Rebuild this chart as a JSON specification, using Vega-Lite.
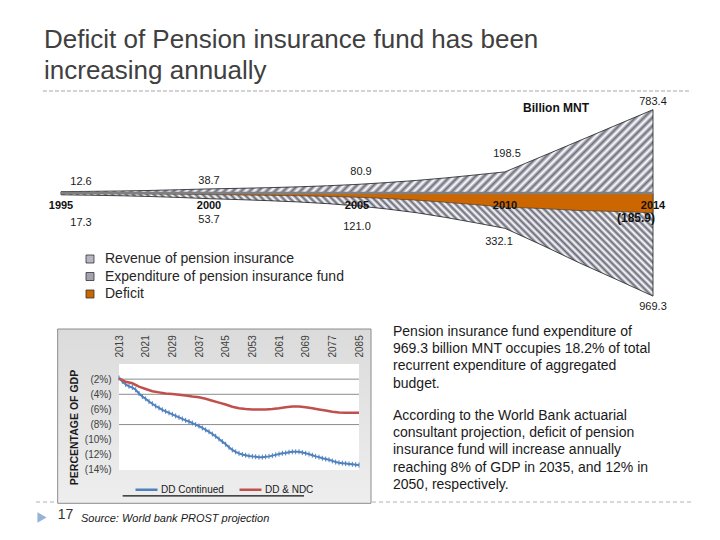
{
  "$schema": "https://vega.github.io/schema/vega-lite/v6.json",
  "background": "white",
  "padding": {"left": 35, "top": 26, "right": 30, "bottom": 5},
  "spacing": 7,
  "config": {
    "font": "Liberation Sans",
    "view": {"stroke": null},
    "axis": {"labelOverlap": false}
  },
  "datasets": {
    "fund": [
      {"year": 1995, "revenue": 12.6, "expenditure": 17.3, "balance": -4.7},
      {"year": 1996, "revenue": 15.5, "expenditure": 21, "balance": -5.5},
      {"year": 1997, "revenue": 19, "expenditure": 26, "balance": -7},
      {"year": 1998, "revenue": 24, "expenditure": 33, "balance": -9},
      {"year": 1999, "revenue": 31, "expenditure": 42, "balance": -11},
      {"year": 2000, "revenue": 38.7, "expenditure": 53.7, "balance": -15},
      {"year": 2001, "revenue": 44, "expenditure": 62, "balance": -18},
      {"year": 2002, "revenue": 50, "expenditure": 72, "balance": -22},
      {"year": 2003, "revenue": 58, "expenditure": 84, "balance": -26},
      {"year": 2004, "revenue": 68, "expenditure": 100, "balance": -32},
      {"year": 2005, "revenue": 80.9, "expenditure": 121, "balance": -40.1},
      {"year": 2006, "revenue": 98, "expenditure": 150, "balance": -52},
      {"year": 2007, "revenue": 118, "expenditure": 185, "balance": -67},
      {"year": 2008, "revenue": 142, "expenditure": 230, "balance": -88},
      {"year": 2009, "revenue": 170, "expenditure": 280, "balance": -110},
      {"year": 2010, "revenue": 198.5, "expenditure": 332.1, "balance": -133.6},
      {"year": 2011, "revenue": 344, "expenditure": 490, "balance": -146},
      {"year": 2012, "revenue": 490, "expenditure": 655, "balance": -165},
      {"year": 2013, "revenue": 637, "expenditure": 811, "balance": -174},
      {"year": 2014, "revenue": 783.4, "expenditure": 969.3, "balance": -185.9}
    ],
    "gdp": [
      {"year": 2013, "series": "DD Continued", "pct": -1.85},
      {"year": 2014, "series": "DD Continued", "pct": -2.3},
      {"year": 2015, "series": "DD Continued", "pct": -2.7},
      {"year": 2016, "series": "DD Continued", "pct": -2.95},
      {"year": 2017, "series": "DD Continued", "pct": -3.1},
      {"year": 2018, "series": "DD Continued", "pct": -3.4},
      {"year": 2019, "series": "DD Continued", "pct": -3.9},
      {"year": 2020, "series": "DD Continued", "pct": -4.3},
      {"year": 2021, "series": "DD Continued", "pct": -4.6},
      {"year": 2022, "series": "DD Continued", "pct": -4.95},
      {"year": 2023, "series": "DD Continued", "pct": -5.25},
      {"year": 2024, "series": "DD Continued", "pct": -5.55},
      {"year": 2025, "series": "DD Continued", "pct": -5.8},
      {"year": 2026, "series": "DD Continued", "pct": -6.05},
      {"year": 2027, "series": "DD Continued", "pct": -6.25},
      {"year": 2028, "series": "DD Continued", "pct": -6.45},
      {"year": 2029, "series": "DD Continued", "pct": -6.65},
      {"year": 2030, "series": "DD Continued", "pct": -6.85},
      {"year": 2031, "series": "DD Continued", "pct": -7.05},
      {"year": 2032, "series": "DD Continued", "pct": -7.25},
      {"year": 2033, "series": "DD Continued", "pct": -7.45},
      {"year": 2034, "series": "DD Continued", "pct": -7.6},
      {"year": 2035, "series": "DD Continued", "pct": -7.8},
      {"year": 2036, "series": "DD Continued", "pct": -8.0},
      {"year": 2037, "series": "DD Continued", "pct": -8.2},
      {"year": 2038, "series": "DD Continued", "pct": -8.45},
      {"year": 2039, "series": "DD Continued", "pct": -8.7},
      {"year": 2040, "series": "DD Continued", "pct": -8.95},
      {"year": 2041, "series": "DD Continued", "pct": -9.25},
      {"year": 2042, "series": "DD Continued", "pct": -9.55},
      {"year": 2043, "series": "DD Continued", "pct": -9.9},
      {"year": 2044, "series": "DD Continued", "pct": -10.25},
      {"year": 2045, "series": "DD Continued", "pct": -10.6},
      {"year": 2046, "series": "DD Continued", "pct": -11.0},
      {"year": 2047, "series": "DD Continued", "pct": -11.35},
      {"year": 2048, "series": "DD Continued", "pct": -11.6},
      {"year": 2049, "series": "DD Continued", "pct": -11.8},
      {"year": 2050, "series": "DD Continued", "pct": -11.95},
      {"year": 2051, "series": "DD Continued", "pct": -12.05},
      {"year": 2052, "series": "DD Continued", "pct": -12.15},
      {"year": 2053, "series": "DD Continued", "pct": -12.2},
      {"year": 2054, "series": "DD Continued", "pct": -12.25},
      {"year": 2055, "series": "DD Continued", "pct": -12.3},
      {"year": 2056, "series": "DD Continued", "pct": -12.3},
      {"year": 2057, "series": "DD Continued", "pct": -12.25},
      {"year": 2058, "series": "DD Continued", "pct": -12.2},
      {"year": 2059, "series": "DD Continued", "pct": -12.1},
      {"year": 2060, "series": "DD Continued", "pct": -12.0},
      {"year": 2061, "series": "DD Continued", "pct": -11.9},
      {"year": 2062, "series": "DD Continued", "pct": -11.8},
      {"year": 2063, "series": "DD Continued", "pct": -11.75},
      {"year": 2064, "series": "DD Continued", "pct": -11.65},
      {"year": 2065, "series": "DD Continued", "pct": -11.6},
      {"year": 2066, "series": "DD Continued", "pct": -11.6},
      {"year": 2067, "series": "DD Continued", "pct": -11.6},
      {"year": 2068, "series": "DD Continued", "pct": -11.7},
      {"year": 2069, "series": "DD Continued", "pct": -11.8},
      {"year": 2070, "series": "DD Continued", "pct": -11.9},
      {"year": 2071, "series": "DD Continued", "pct": -12.05},
      {"year": 2072, "series": "DD Continued", "pct": -12.2},
      {"year": 2073, "series": "DD Continued", "pct": -12.3},
      {"year": 2074, "series": "DD Continued", "pct": -12.45},
      {"year": 2075, "series": "DD Continued", "pct": -12.55},
      {"year": 2076, "series": "DD Continued", "pct": -12.65},
      {"year": 2077, "series": "DD Continued", "pct": -12.8},
      {"year": 2078, "series": "DD Continued", "pct": -12.95},
      {"year": 2079, "series": "DD Continued", "pct": -13.05},
      {"year": 2080, "series": "DD Continued", "pct": -13.1},
      {"year": 2081, "series": "DD Continued", "pct": -13.15},
      {"year": 2082, "series": "DD Continued", "pct": -13.2},
      {"year": 2083, "series": "DD Continued", "pct": -13.25},
      {"year": 2084, "series": "DD Continued", "pct": -13.3},
      {"year": 2085, "series": "DD Continued", "pct": -13.35},
      {"year": 2013, "series": "DD & NDC", "pct": -1.9},
      {"year": 2015, "series": "DD & NDC", "pct": -2.35},
      {"year": 2017, "series": "DD & NDC", "pct": -2.55},
      {"year": 2019, "series": "DD & NDC", "pct": -3.0},
      {"year": 2021, "series": "DD & NDC", "pct": -3.3},
      {"year": 2023, "series": "DD & NDC", "pct": -3.6},
      {"year": 2025, "series": "DD & NDC", "pct": -3.75},
      {"year": 2027, "series": "DD & NDC", "pct": -3.9},
      {"year": 2029, "series": "DD & NDC", "pct": -3.95},
      {"year": 2031, "series": "DD & NDC", "pct": -4.05},
      {"year": 2033, "series": "DD & NDC", "pct": -4.15},
      {"year": 2035, "series": "DD & NDC", "pct": -4.3},
      {"year": 2037, "series": "DD & NDC", "pct": -4.4},
      {"year": 2039, "series": "DD & NDC", "pct": -4.6},
      {"year": 2041, "series": "DD & NDC", "pct": -4.85},
      {"year": 2043, "series": "DD & NDC", "pct": -5.1},
      {"year": 2045, "series": "DD & NDC", "pct": -5.35},
      {"year": 2047, "series": "DD & NDC", "pct": -5.65},
      {"year": 2049, "series": "DD & NDC", "pct": -5.85},
      {"year": 2051, "series": "DD & NDC", "pct": -5.95},
      {"year": 2053, "series": "DD & NDC", "pct": -6.0},
      {"year": 2055, "series": "DD & NDC", "pct": -6.0},
      {"year": 2057, "series": "DD & NDC", "pct": -6.0},
      {"year": 2059, "series": "DD & NDC", "pct": -5.95},
      {"year": 2061, "series": "DD & NDC", "pct": -5.85},
      {"year": 2063, "series": "DD & NDC", "pct": -5.7},
      {"year": 2065, "series": "DD & NDC", "pct": -5.6},
      {"year": 2067, "series": "DD & NDC", "pct": -5.6},
      {"year": 2069, "series": "DD & NDC", "pct": -5.7},
      {"year": 2071, "series": "DD & NDC", "pct": -5.85},
      {"year": 2073, "series": "DD & NDC", "pct": -6.0},
      {"year": 2075, "series": "DD & NDC", "pct": -6.15},
      {"year": 2077, "series": "DD & NDC", "pct": -6.3},
      {"year": 2079, "series": "DD & NDC", "pct": -6.4},
      {"year": 2081, "series": "DD & NDC", "pct": -6.45},
      {"year": 2083, "series": "DD & NDC", "pct": -6.45},
      {"year": 2085, "series": "DD & NDC", "pct": -6.45}
    ]
  },
  "vconcat": [
    {
      "title": {
        "text": ["Deficit of Pension insurance fund has been", "increasing annually"],
        "anchor": "start",
        "frame": "group",
        "dx": 8,
        "offset": 7,
        "fontSize": 26,
        "fontWeight": "normal",
        "lineHeight": 31,
        "color": "#404040"
      },
      "width": 655,
      "height": 225,
      "data": {"name": "fund"},
      "layer": [
        {
          "layer": [
            {
              "mark": {
                "type": "area",
                "stroke": "#1a1a1a",
                "strokeWidth": 0.8,
                "fill": {
                  "gradient": "linear", "x1": 0, "y1": 1, "x2": 1.1396, "y2": 0.8015,
                  "stops": [
                    {"offset":0,"color":"#68687a"},{"offset":0.005,"color":"#fff"},{"offset":0.01,"color":"#68687a"},{"offset":0.015,"color":"#fff"},{"offset":0.02,"color":"#68687a"},{"offset":0.025,"color":"#fff"},{"offset":0.03,"color":"#68687a"},{"offset":0.035,"color":"#fff"},{"offset":0.04,"color":"#68687a"},{"offset":0.045,"color":"#fff"},{"offset":0.05,"color":"#68687a"},{"offset":0.055,"color":"#fff"},{"offset":0.06,"color":"#68687a"},{"offset":0.065,"color":"#fff"},{"offset":0.07,"color":"#68687a"},{"offset":0.075,"color":"#fff"},{"offset":0.08,"color":"#68687a"},{"offset":0.085,"color":"#fff"},{"offset":0.09,"color":"#68687a"},{"offset":0.095,"color":"#fff"},
                    {"offset":0.1,"color":"#68687a"},{"offset":0.105,"color":"#fff"},{"offset":0.11,"color":"#68687a"},{"offset":0.115,"color":"#fff"},{"offset":0.12,"color":"#68687a"},{"offset":0.125,"color":"#fff"},{"offset":0.13,"color":"#68687a"},{"offset":0.135,"color":"#fff"},{"offset":0.14,"color":"#68687a"},{"offset":0.145,"color":"#fff"},{"offset":0.15,"color":"#68687a"},{"offset":0.155,"color":"#fff"},{"offset":0.16,"color":"#68687a"},{"offset":0.165,"color":"#fff"},{"offset":0.17,"color":"#68687a"},{"offset":0.175,"color":"#fff"},{"offset":0.18,"color":"#68687a"},{"offset":0.185,"color":"#fff"},{"offset":0.19,"color":"#68687a"},{"offset":0.195,"color":"#fff"},
                    {"offset":0.2,"color":"#68687a"},{"offset":0.205,"color":"#fff"},{"offset":0.21,"color":"#68687a"},{"offset":0.215,"color":"#fff"},{"offset":0.22,"color":"#68687a"},{"offset":0.225,"color":"#fff"},{"offset":0.23,"color":"#68687a"},{"offset":0.235,"color":"#fff"},{"offset":0.24,"color":"#68687a"},{"offset":0.245,"color":"#fff"},{"offset":0.25,"color":"#68687a"},{"offset":0.255,"color":"#fff"},{"offset":0.26,"color":"#68687a"},{"offset":0.265,"color":"#fff"},{"offset":0.27,"color":"#68687a"},{"offset":0.275,"color":"#fff"},{"offset":0.28,"color":"#68687a"},{"offset":0.285,"color":"#fff"},{"offset":0.29,"color":"#68687a"},{"offset":0.295,"color":"#fff"},
                    {"offset":0.3,"color":"#68687a"},{"offset":0.305,"color":"#fff"},{"offset":0.31,"color":"#68687a"},{"offset":0.315,"color":"#fff"},{"offset":0.32,"color":"#68687a"},{"offset":0.325,"color":"#fff"},{"offset":0.33,"color":"#68687a"},{"offset":0.335,"color":"#fff"},{"offset":0.34,"color":"#68687a"},{"offset":0.345,"color":"#fff"},{"offset":0.35,"color":"#68687a"},{"offset":0.355,"color":"#fff"},{"offset":0.36,"color":"#68687a"},{"offset":0.365,"color":"#fff"},{"offset":0.37,"color":"#68687a"},{"offset":0.375,"color":"#fff"},{"offset":0.38,"color":"#68687a"},{"offset":0.385,"color":"#fff"},{"offset":0.39,"color":"#68687a"},{"offset":0.395,"color":"#fff"},
                    {"offset":0.4,"color":"#68687a"},{"offset":0.405,"color":"#fff"},{"offset":0.41,"color":"#68687a"},{"offset":0.415,"color":"#fff"},{"offset":0.42,"color":"#68687a"},{"offset":0.425,"color":"#fff"},{"offset":0.43,"color":"#68687a"},{"offset":0.435,"color":"#fff"},{"offset":0.44,"color":"#68687a"},{"offset":0.445,"color":"#fff"},{"offset":0.45,"color":"#68687a"},{"offset":0.455,"color":"#fff"},{"offset":0.46,"color":"#68687a"},{"offset":0.465,"color":"#fff"},{"offset":0.47,"color":"#68687a"},{"offset":0.475,"color":"#fff"},{"offset":0.48,"color":"#68687a"},{"offset":0.485,"color":"#fff"},{"offset":0.49,"color":"#68687a"},{"offset":0.495,"color":"#fff"},
                    {"offset":0.5,"color":"#68687a"},{"offset":0.505,"color":"#fff"},{"offset":0.51,"color":"#68687a"},{"offset":0.515,"color":"#fff"},{"offset":0.52,"color":"#68687a"},{"offset":0.525,"color":"#fff"},{"offset":0.53,"color":"#68687a"},{"offset":0.535,"color":"#fff"},{"offset":0.54,"color":"#68687a"},{"offset":0.545,"color":"#fff"},{"offset":0.55,"color":"#68687a"},{"offset":0.555,"color":"#fff"},{"offset":0.56,"color":"#68687a"},{"offset":0.565,"color":"#fff"},{"offset":0.57,"color":"#68687a"},{"offset":0.575,"color":"#fff"},{"offset":0.58,"color":"#68687a"},{"offset":0.585,"color":"#fff"},{"offset":0.59,"color":"#68687a"},{"offset":0.595,"color":"#fff"},
                    {"offset":0.6,"color":"#68687a"},{"offset":0.605,"color":"#fff"},{"offset":0.61,"color":"#68687a"},{"offset":0.615,"color":"#fff"},{"offset":0.62,"color":"#68687a"},{"offset":0.625,"color":"#fff"},{"offset":0.63,"color":"#68687a"},{"offset":0.635,"color":"#fff"},{"offset":0.64,"color":"#68687a"},{"offset":0.645,"color":"#fff"},{"offset":0.65,"color":"#68687a"},{"offset":0.655,"color":"#fff"},{"offset":0.66,"color":"#68687a"},{"offset":0.665,"color":"#fff"},{"offset":0.67,"color":"#68687a"},{"offset":0.675,"color":"#fff"},{"offset":0.68,"color":"#68687a"},{"offset":0.685,"color":"#fff"},{"offset":0.69,"color":"#68687a"},{"offset":0.695,"color":"#fff"},
                    {"offset":0.7,"color":"#68687a"},{"offset":0.705,"color":"#fff"},{"offset":0.71,"color":"#68687a"},{"offset":0.715,"color":"#fff"},{"offset":0.72,"color":"#68687a"},{"offset":0.725,"color":"#fff"},{"offset":0.73,"color":"#68687a"},{"offset":0.735,"color":"#fff"},{"offset":0.74,"color":"#68687a"},{"offset":0.745,"color":"#fff"},{"offset":0.75,"color":"#68687a"},{"offset":0.755,"color":"#fff"},{"offset":0.76,"color":"#68687a"},{"offset":0.765,"color":"#fff"},{"offset":0.77,"color":"#68687a"},{"offset":0.775,"color":"#fff"},{"offset":0.78,"color":"#68687a"},{"offset":0.785,"color":"#fff"},{"offset":0.79,"color":"#68687a"},{"offset":0.795,"color":"#fff"},
                    {"offset":0.8,"color":"#68687a"},{"offset":0.805,"color":"#fff"},{"offset":0.81,"color":"#68687a"},{"offset":0.815,"color":"#fff"},{"offset":0.82,"color":"#68687a"},{"offset":0.825,"color":"#fff"},{"offset":0.83,"color":"#68687a"},{"offset":0.835,"color":"#fff"},{"offset":0.84,"color":"#68687a"},{"offset":0.845,"color":"#fff"},{"offset":0.85,"color":"#68687a"},{"offset":0.855,"color":"#fff"},{"offset":0.86,"color":"#68687a"},{"offset":0.865,"color":"#fff"},{"offset":0.87,"color":"#68687a"},{"offset":0.875,"color":"#fff"},{"offset":0.88,"color":"#68687a"},{"offset":0.885,"color":"#fff"},{"offset":0.89,"color":"#68687a"},{"offset":0.895,"color":"#fff"},
                    {"offset":0.9,"color":"#68687a"},{"offset":0.905,"color":"#fff"},{"offset":0.91,"color":"#68687a"},{"offset":0.915,"color":"#fff"},{"offset":0.92,"color":"#68687a"},{"offset":0.925,"color":"#fff"},{"offset":0.93,"color":"#68687a"},{"offset":0.935,"color":"#fff"},{"offset":0.94,"color":"#68687a"},{"offset":0.945,"color":"#fff"},{"offset":0.95,"color":"#68687a"},{"offset":0.955,"color":"#fff"},{"offset":0.96,"color":"#68687a"},{"offset":0.965,"color":"#fff"},{"offset":0.97,"color":"#68687a"},{"offset":0.975,"color":"#fff"},{"offset":0.98,"color":"#68687a"},{"offset":0.985,"color":"#fff"},{"offset":0.99,"color":"#68687a"},{"offset":0.995,"color":"#fff"},
                    {"offset":1,"color":"#68687a"}
                  ]
                }
              },
              "encoding": {
                "x": {"field": "year", "type": "quantitative", "scale": {"domain": [1995, 2010, 2014], "range": [25, 469, 617], "nice": false, "zero": false}, "axis": null},
                "y": {"field": "expenditure", "type": "quantitative", "scale": {"domain": [-958.8, 1156.2], "reverse": true, "nice": false, "zero": false}, "axis": null},
                "y2": {"datum": 0}
              }
            },
            {
              "transform": [{"filter": "datum.year == 1995"}],
              "mark": {"type": "text", "dx": 20, "dy": 28, "fontSize": 11, "color": "#1a1a1a"},
              "encoding": {
                "x": {"field": "year", "type": "quantitative"},
                "y": {"field": "expenditure", "type": "quantitative"},
                "text": {"field": "expenditure", "type": "quantitative", "format": ".1f"}
              }
            },
            {
              "transform": [{"filter": "datum.year == 2000 || datum.year == 2005"}],
              "mark": {"type": "text", "dy": 21, "fontSize": 11, "color": "#1a1a1a"},
              "encoding": {
                "x": {"field": "year", "type": "quantitative"},
                "y": {"field": "expenditure", "type": "quantitative"},
                "text": {"field": "expenditure", "type": "quantitative", "format": ".1f"}
              }
            },
            {
              "transform": [{"filter": "datum.year == 2010"}],
              "mark": {"type": "text", "dx": -6, "dy": 14, "fontSize": 11, "color": "#1a1a1a"},
              "encoding": {
                "x": {"field": "year", "type": "quantitative"},
                "y": {"field": "expenditure", "type": "quantitative"},
                "text": {"field": "expenditure", "type": "quantitative", "format": ".1f"}
              }
            },
            {
              "transform": [{"filter": "datum.year == 2014"}],
              "mark": {"type": "text", "dy": 11, "fontSize": 11, "color": "#1a1a1a"},
              "encoding": {
                "x": {"field": "year", "type": "quantitative"},
                "y": {"field": "expenditure", "type": "quantitative"},
                "text": {"field": "expenditure", "type": "quantitative", "format": ".1f"}
              }
            }
          ]
        },
        {
          "layer": [
            {
              "mark": {
                "type": "area",
                "stroke": "#1a1a1a",
                "strokeWidth": 0.8,
                "fill": {
                  "gradient": "linear", "x1": 0, "y1": 0, "x2": 1.1186, "y2": 0.1574,
                  "stops": [
                    {"offset":0,"color":"#6e6e80"},{"offset":0.00625,"color":"#fff"},{"offset":0.0125,"color":"#6e6e80"},{"offset":0.01875,"color":"#fff"},{"offset":0.025,"color":"#6e6e80"},{"offset":0.03125,"color":"#fff"},{"offset":0.0375,"color":"#6e6e80"},{"offset":0.04375,"color":"#fff"},{"offset":0.05,"color":"#6e6e80"},{"offset":0.05625,"color":"#fff"},{"offset":0.0625,"color":"#6e6e80"},{"offset":0.06875,"color":"#fff"},{"offset":0.075,"color":"#6e6e80"},{"offset":0.08125,"color":"#fff"},{"offset":0.0875,"color":"#6e6e80"},{"offset":0.09375,"color":"#fff"},
                    {"offset":0.1,"color":"#6e6e80"},{"offset":0.10625,"color":"#fff"},{"offset":0.1125,"color":"#6e6e80"},{"offset":0.11875,"color":"#fff"},{"offset":0.125,"color":"#6e6e80"},{"offset":0.13125,"color":"#fff"},{"offset":0.1375,"color":"#6e6e80"},{"offset":0.14375,"color":"#fff"},{"offset":0.15,"color":"#6e6e80"},{"offset":0.15625,"color":"#fff"},{"offset":0.1625,"color":"#6e6e80"},{"offset":0.16875,"color":"#fff"},{"offset":0.175,"color":"#6e6e80"},{"offset":0.18125,"color":"#fff"},{"offset":0.1875,"color":"#6e6e80"},{"offset":0.19375,"color":"#fff"},
                    {"offset":0.2,"color":"#6e6e80"},{"offset":0.20625,"color":"#fff"},{"offset":0.2125,"color":"#6e6e80"},{"offset":0.21875,"color":"#fff"},{"offset":0.225,"color":"#6e6e80"},{"offset":0.23125,"color":"#fff"},{"offset":0.2375,"color":"#6e6e80"},{"offset":0.24375,"color":"#fff"},{"offset":0.25,"color":"#6e6e80"},{"offset":0.25625,"color":"#fff"},{"offset":0.2625,"color":"#6e6e80"},{"offset":0.26875,"color":"#fff"},{"offset":0.275,"color":"#6e6e80"},{"offset":0.28125,"color":"#fff"},{"offset":0.2875,"color":"#6e6e80"},{"offset":0.29375,"color":"#fff"},
                    {"offset":0.3,"color":"#6e6e80"},{"offset":0.30625,"color":"#fff"},{"offset":0.3125,"color":"#6e6e80"},{"offset":0.31875,"color":"#fff"},{"offset":0.325,"color":"#6e6e80"},{"offset":0.33125,"color":"#fff"},{"offset":0.3375,"color":"#6e6e80"},{"offset":0.34375,"color":"#fff"},{"offset":0.35,"color":"#6e6e80"},{"offset":0.35625,"color":"#fff"},{"offset":0.3625,"color":"#6e6e80"},{"offset":0.36875,"color":"#fff"},{"offset":0.375,"color":"#6e6e80"},{"offset":0.38125,"color":"#fff"},{"offset":0.3875,"color":"#6e6e80"},{"offset":0.39375,"color":"#fff"},
                    {"offset":0.4,"color":"#6e6e80"},{"offset":0.40625,"color":"#fff"},{"offset":0.4125,"color":"#6e6e80"},{"offset":0.41875,"color":"#fff"},{"offset":0.425,"color":"#6e6e80"},{"offset":0.43125,"color":"#fff"},{"offset":0.4375,"color":"#6e6e80"},{"offset":0.44375,"color":"#fff"},{"offset":0.45,"color":"#6e6e80"},{"offset":0.45625,"color":"#fff"},{"offset":0.4625,"color":"#6e6e80"},{"offset":0.46875,"color":"#fff"},{"offset":0.475,"color":"#6e6e80"},{"offset":0.48125,"color":"#fff"},{"offset":0.4875,"color":"#6e6e80"},{"offset":0.49375,"color":"#fff"},
                    {"offset":0.5,"color":"#6e6e80"},{"offset":0.50625,"color":"#fff"},{"offset":0.5125,"color":"#6e6e80"},{"offset":0.51875,"color":"#fff"},{"offset":0.525,"color":"#6e6e80"},{"offset":0.53125,"color":"#fff"},{"offset":0.5375,"color":"#6e6e80"},{"offset":0.54375,"color":"#fff"},{"offset":0.55,"color":"#6e6e80"},{"offset":0.55625,"color":"#fff"},{"offset":0.5625,"color":"#6e6e80"},{"offset":0.56875,"color":"#fff"},{"offset":0.575,"color":"#6e6e80"},{"offset":0.58125,"color":"#fff"},{"offset":0.5875,"color":"#6e6e80"},{"offset":0.59375,"color":"#fff"},
                    {"offset":0.6,"color":"#6e6e80"},{"offset":0.60625,"color":"#fff"},{"offset":0.6125,"color":"#6e6e80"},{"offset":0.61875,"color":"#fff"},{"offset":0.625,"color":"#6e6e80"},{"offset":0.63125,"color":"#fff"},{"offset":0.6375,"color":"#6e6e80"},{"offset":0.64375,"color":"#fff"},{"offset":0.65,"color":"#6e6e80"},{"offset":0.65625,"color":"#fff"},{"offset":0.6625,"color":"#6e6e80"},{"offset":0.66875,"color":"#fff"},{"offset":0.675,"color":"#6e6e80"},{"offset":0.68125,"color":"#fff"},{"offset":0.6875,"color":"#6e6e80"},{"offset":0.69375,"color":"#fff"},
                    {"offset":0.7,"color":"#6e6e80"},{"offset":0.70625,"color":"#fff"},{"offset":0.7125,"color":"#6e6e80"},{"offset":0.71875,"color":"#fff"},{"offset":0.725,"color":"#6e6e80"},{"offset":0.73125,"color":"#fff"},{"offset":0.7375,"color":"#6e6e80"},{"offset":0.74375,"color":"#fff"},{"offset":0.75,"color":"#6e6e80"},{"offset":0.75625,"color":"#fff"},{"offset":0.7625,"color":"#6e6e80"},{"offset":0.76875,"color":"#fff"},{"offset":0.775,"color":"#6e6e80"},{"offset":0.78125,"color":"#fff"},{"offset":0.7875,"color":"#6e6e80"},{"offset":0.79375,"color":"#fff"},
                    {"offset":0.8,"color":"#6e6e80"},{"offset":0.80625,"color":"#fff"},{"offset":0.8125,"color":"#6e6e80"},{"offset":0.81875,"color":"#fff"},{"offset":0.825,"color":"#6e6e80"},{"offset":0.83125,"color":"#fff"},{"offset":0.8375,"color":"#6e6e80"},{"offset":0.84375,"color":"#fff"},{"offset":0.85,"color":"#6e6e80"},{"offset":0.85625,"color":"#fff"},{"offset":0.8625,"color":"#6e6e80"},{"offset":0.86875,"color":"#fff"},{"offset":0.875,"color":"#6e6e80"},{"offset":0.88125,"color":"#fff"},{"offset":0.8875,"color":"#6e6e80"},{"offset":0.89375,"color":"#fff"},
                    {"offset":0.9,"color":"#6e6e80"},{"offset":0.90625,"color":"#fff"},{"offset":0.9125,"color":"#6e6e80"},{"offset":0.91875,"color":"#fff"},{"offset":0.925,"color":"#6e6e80"},{"offset":0.93125,"color":"#fff"},{"offset":0.9375,"color":"#6e6e80"},{"offset":0.94375,"color":"#fff"},{"offset":0.95,"color":"#6e6e80"},{"offset":0.95625,"color":"#fff"},{"offset":0.9625,"color":"#6e6e80"},{"offset":0.96875,"color":"#fff"},{"offset":0.975,"color":"#6e6e80"},{"offset":0.98125,"color":"#fff"},{"offset":0.9875,"color":"#6e6e80"},{"offset":0.99375,"color":"#fff"},
                    {"offset":1,"color":"#6e6e80"}
                  ]
                }
              },
              "encoding": {
                "x": {"field": "year", "type": "quantitative"},
                "y": {"field": "revenue", "type": "quantitative", "scale": {"domain": [-1156.2, 958.8], "nice": false, "zero": false}, "axis": null},
                "y2": {"datum": 0}
              }
            },
            {
              "mark": {"type": "area", "fill": "#cc6600", "stroke": "#333333", "strokeWidth": 0.6},
              "encoding": {
                "x": {"field": "year", "type": "quantitative"},
                "y": {"field": "balance", "type": "quantitative"},
                "y2": {"datum": 0}
              }
            },
            {
              "data": {"values": [{}]},
              "mark": {"type": "rule", "stroke": "#808080", "strokeWidth": 2.5},
              "encoding": {"x": {"datum": 1995}, "x2": {"datum": 2014}, "y": {"datum": 0}}
            },
            {
              "data": {"values": [{}]},
              "mark": {"type": "rule", "stroke": "#a6a6a6", "strokeWidth": 1, "strokeDash": [4, 2]},
              "encoding": {"x": {"datum": 1994.39}, "x2": {"datum": 2015.03}, "y": {"datum": 958.8}}
            },
            {
              "transform": [{"filter": "datum.year == 1995"}],
              "mark": {"type": "text", "dx": 20, "dy": -10, "fontSize": 11, "color": "#1a1a1a"},
              "encoding": {
                "x": {"field": "year", "type": "quantitative"},
                "y": {"field": "revenue", "type": "quantitative"},
                "text": {"field": "revenue", "type": "quantitative", "format": ".1f"}
              }
            },
            {
              "transform": [{"filter": "datum.year == 2000 || datum.year == 2014"}],
              "mark": {"type": "text", "dy": -8, "fontSize": 11, "color": "#1a1a1a"},
              "encoding": {
                "x": {"field": "year", "type": "quantitative"},
                "y": {"field": "revenue", "type": "quantitative"},
                "text": {"field": "revenue", "type": "quantitative", "format": ".1f"}
              }
            },
            {
              "transform": [{"filter": "datum.year == 2005"}],
              "mark": {"type": "text", "dx": 4, "dy": -12, "fontSize": 11, "color": "#1a1a1a"},
              "encoding": {
                "x": {"field": "year", "type": "quantitative"},
                "y": {"field": "revenue", "type": "quantitative"},
                "text": {"field": "revenue", "type": "quantitative", "format": ".1f"}
              }
            },
            {
              "transform": [{"filter": "datum.year == 2010"}],
              "mark": {"type": "text", "dx": 2, "dy": -18, "fontSize": 11, "color": "#1a1a1a"},
              "encoding": {
                "x": {"field": "year", "type": "quantitative"},
                "y": {"field": "revenue", "type": "quantitative"},
                "text": {"field": "revenue", "type": "quantitative", "format": ".1f"}
              }
            },
            {
              "transform": [{"filter": {"field": "year", "oneOf": [1995, 2000, 2005, 2010, 2014]}}],
              "mark": {"type": "text", "dy": 13, "fontSize": 11, "fontWeight": "bold", "color": "#111111"},
              "encoding": {
                "x": {"field": "year", "type": "quantitative"},
                "y": {"datum": 0},
                "text": {"field": "year", "type": "quantitative", "format": "d"}
              }
            },
            {
              "transform": [{"filter": "datum.year == 2014"}],
              "mark": {"type": "text", "align": "right", "dx": 2, "dy": 5, "fontSize": 12, "fontWeight": "bold", "color": "#111111"},
              "encoding": {
                "x": {"field": "year", "type": "quantitative"},
                "y": {"field": "balance", "type": "quantitative"},
                "text": {"field": "balance", "type": "quantitative", "format": "(.1f"}
              }
            },
            {
              "data": {"values": [{}]},
              "mark": {"type": "text", "text": "Billion MNT", "fontSize": 12, "fontWeight": "bold", "color": "#111111"},
              "encoding": {"x": {"datum": 2011.38}, "y": {"datum": 802}}
            },
            {
              "data": {"values": [
                {"item": "Revenue of pension insurance"},
                {"item": "Expenditure of pension insurance fund"},
                {"item": "Deficit"}
              ]},
              "mark": {"type": "square", "opacity": 0},
              "encoding": {
                "fill": {
                  "field": "item",
                  "type": "nominal",
                  "scale": {
                    "domain": ["Revenue of pension insurance", "Expenditure of pension insurance fund", "Deficit"],
                    "range": ["#b6b6c2", "#a2a2b0", "#cc6600"]
                  },
                  "legend": {
                    "orient": "none",
                    "legendX": 47,
                    "legendY": 161,
                    "title": null,
                    "padding": 0,
                    "labelFontSize": 14,
                    "labelColor": "#262626",
                    "labelLimit": 400,
                    "labelOffset": 8,
                    "rowPadding": 3.5,
                    "symbolType": "square",
                    "symbolSize": 64,
                    "symbolOpacity": 1,
                    "symbolStrokeColor": "#333333",
                    "symbolStrokeWidth": 0.8
                  }
                }
              }
            }
          ]
        }
      ],
      "resolve": {"scale": {"y": "independent"}}
    },
    {
      "width": 655,
      "height": 208,
      "layer": [
        {
          "data": {"values": [{}]},
          "mark": {"type": "rule", "stroke": "#b3b3b3", "strokeWidth": 1, "strokeDash": [4, 3]},
          "encoding": {"y": {"datum": -18.23}}
        },
        {
          "data": {"values": [{}]},
          "mark": {
            "type": "rect",
            "stroke": "#8c8c8c",
            "strokeWidth": 1,
            "fill": {
              "gradient": "linear", "x1": 0, "y1": 0, "x2": 0, "y2": 1,
              "stops": [{"offset": 0, "color": "#dbdbdb"}, {"offset": 1, "color": "#eeeeee"}]
            }
          },
          "encoding": {"x": {"datum": 1994.6}, "x2": {"datum": 2088.6}, "y": {"datum": 4.62}, "y2": {"datum": -18.4}}
        },
        {
          "data": {"values": [{}]},
          "mark": {"type": "rect", "fill": "#ffffff"},
          "encoding": {"x": {"datum": 2013}, "x2": {"datum": 2085}, "y": {"datum": 0}, "y2": {"datum": -14}}
        },
        {
          "data": {"values": [{"grid": -2}, {"grid": -4}, {"grid": -8}]},
          "mark": {"type": "rule", "stroke": "#8c8c8c", "strokeWidth": 1},
          "encoding": {"x": {"datum": 2013}, "x2": {"datum": 2085}, "y": {"field": "grid", "type": "quantitative"}}
        },
        {
          "data": {"name": "gdp"},
          "transform": [{"filter": "datum.series == 'DD Continued'"}],
          "mark": {
            "type": "line",
            "strokeWidth": 2,
            "point": {"shape": "M0,-1L0,1", "filled": false, "size": 25, "strokeWidth": 1}
          },
          "encoding": {
            "x": {
              "field": "year",
              "type": "quantitative",
              "scale": {"domain": [1988.1, 2184.6], "nice": false, "zero": false},
              "axis": {
                "orient": "top",
                "offset": -41,
                "values": [2013, 2021, 2029, 2037, 2045, 2053, 2061, 2069, 2077, 2085],
                "tickCount": 50,
                "format": "d",
                "labelAngle": -90,
                "labelPadding": 7,
                "labelFontSize": 10,
                "labelColor": "#404040",
                "labelOverlap": false,
                "labelFlush": false,
                "domain": false,
                "ticks": false,
                "grid": false,
                "title": null,
                "zindex": 1
              }
            },
            "y": {
              "field": "pct",
              "type": "quantitative",
              "scale": {"domain": [-22.057, 5.415], "nice": false, "zero": false},
              "axis": {
                "orient": "left",
                "offset": -83,
                "values": [-2, -4, -6, -8, -10, -12, -14],
                "tickCount": 50,
                "labelExpr": "'(' + abs(datum.value) + '%)'",
                "labelOverlap": false,
                "labelFlush": false,
                "labelPadding": 8,
                "labelFontSize": 10,
                "labelColor": "#404040",
                "domain": false,
                "ticks": false,
                "grid": false,
                "title": "PERCENTAGE OF GDP",
                "titleFontSize": 10.5,
                "titleFontWeight": "bold",
                "titleColor": "#1a1a1a",
                "titlePadding": 5,
                "zindex": 1
              }
            },
            "stroke": {
              "field": "series",
              "type": "nominal",
              "scale": {"domain": ["DD Continued", "DD & NDC"], "range": ["#4f81bd", "#c0504d"]},
              "legend": {
                "orient": "none",
                "legendX": 98,
                "legendY": 386,
                "direction": "horizontal",
                "title": null,
                "padding": 0,
                "symbolType": "stroke",
                "symbolSize": 484,
                "symbolStrokeWidth": 2.5,
                "labelFontSize": 10,
                "labelColor": "#1a1a1a",
                "labelOffset": 2,
                "columnPadding": 10
              }
            }
          }
        },
        {
          "data": {"name": "gdp"},
          "transform": [{"filter": "datum.series == 'DD & NDC'"}],
          "mark": {"type": "line", "strokeWidth": 2.5},
          "encoding": {
            "x": {"field": "year", "type": "quantitative"},
            "y": {"field": "pct", "type": "quantitative"},
            "stroke": {"field": "series", "type": "nominal"}
          }
        },
        {
          "data": {"values": [{}]},
          "mark": {"type": "rule", "stroke": "#111111", "strokeWidth": 1.2},
          "encoding": {"x": {"datum": 2014.1}, "x2": {"datum": 2068.5}, "y": {"datum": -17.43}}
        },
        {
          "data": {"values": [{}]},
          "mark": {
            "type": "text",
            "align": "left",
            "baseline": "top",
            "fontSize": 14,
            "lineHeight": 17.2,
            "color": "#1a1a1a",
            "text": ["Pension insurance fund expenditure of", "969.3 billion MNT occupies 18.2% of total", "recurrent expenditure of aggregated", "budget."]
          },
          "encoding": {"x": {"datum": 2095.2}, "y": {"datum": 5.15}}
        },
        {
          "data": {"values": [{}]},
          "mark": {
            "type": "text",
            "align": "left",
            "baseline": "top",
            "fontSize": 14,
            "lineHeight": 17.2,
            "color": "#1a1a1a",
            "text": ["According to the World Bank actuarial", "consultant projection, deficit of pension", "insurance fund will increase annually", "reaching 8% of GDP in 2035, and 12% in", "2050, respectively."]
          },
          "encoding": {"x": {"datum": 2095.2}, "y": {"datum": -5.94}}
        },
        {
          "data": {"values": [{}]},
          "mark": {"type": "point", "shape": "triangle-right", "filled": true, "fill": "#95b3d7", "opacity": 1, "size": 110},
          "encoding": {"x": {"datum": 1989.9}, "y": {"datum": -20.27}}
        },
        {
          "data": {"values": [{}]},
          "mark": {"type": "text", "text": "17", "align": "left", "baseline": "alphabetic", "fontSize": 14, "color": "#333333"},
          "encoding": {"x": {"datum": 1994.6}, "y": {"datum": -20.51}}
        },
        {
          "data": {"values": [{}]},
          "mark": {"type": "text", "text": "Source: World bank PROST projection", "align": "left", "baseline": "alphabetic", "fontSize": 11, "fontStyle": "italic", "color": "#1a1a1a"},
          "encoding": {"x": {"datum": 2001.6}, "y": {"datum": -20.87}}
        }
      ]
    }
  ]
}
